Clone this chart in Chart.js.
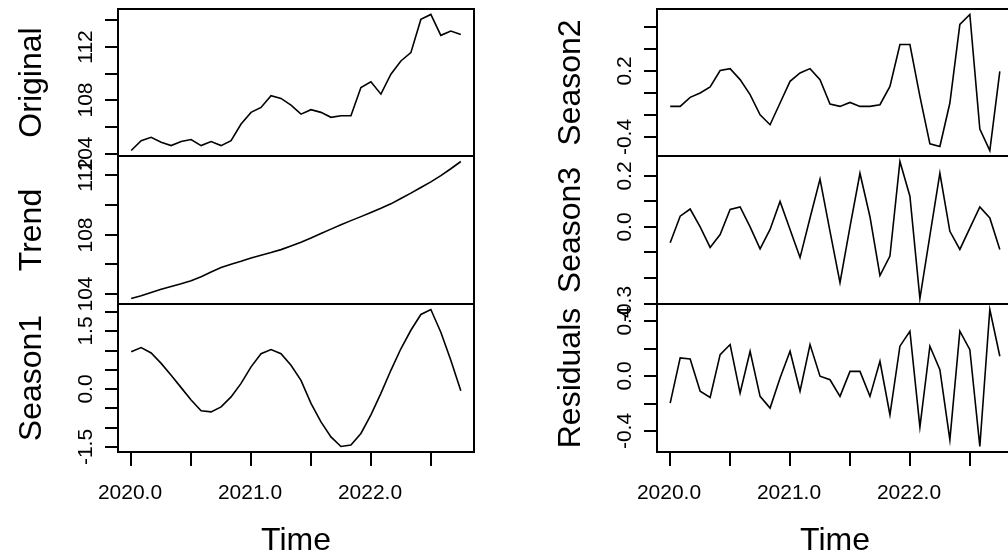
<!DOCTYPE html>
<html><head><meta charset="utf-8">
<script src="https://cdn.jsdelivr.net/npm/chart.js@4/dist/chart.umd.min.js"></script>
<style>
html,body{margin:0;padding:0;background:#fff;overflow:hidden;width:1008px;height:556px;}
#wrap{position:relative;width:1008px;height:556px;overflow:hidden;background:#fff;}
canvas{position:absolute;left:0;top:0;}
</style></head><body><div id="wrap"></div>
<script>
// ---- time index (monthly ts, Jan 2020 .. Oct 2022) ----
const tsStart = 2020, tsFreq = 12;

// ---- series values ----
const original = [104.25, 104.99, 105.24, 104.87, 104.62, 104.92, 105.07, 104.62, 104.92, 104.62,
  104.99, 106.23, 107.10, 107.47, 108.34, 108.14, 107.64, 106.97, 107.30, 107.10,
  106.73, 106.85, 106.85, 108.96, 109.38, 108.46, 109.95, 110.94, 111.56, 114.04,
  114.41, 112.85, 113.17, 112.92];
const trend = [103.71, 103.90, 104.12, 104.33, 104.52, 104.70, 104.90, 105.18, 105.50, 105.80,
  106.02, 106.22, 106.44, 106.62, 106.80, 107.00, 107.25, 107.50, 107.78, 108.08,
  108.38, 108.67, 108.95, 109.22, 109.50, 109.78, 110.08, 110.44, 110.80, 111.18,
  111.56, 111.98, 112.44, 112.93];
const season1 = [0.97, 1.08, 0.94, 0.67, 0.36, 0.04, -0.28, -0.56, -0.59, -0.46,
  -0.20, 0.15, 0.58, 0.92, 1.03, 0.92, 0.62, 0.23, -0.37, -0.85,
  -1.24, -1.49, -1.45, -1.15, -0.67, -0.11, 0.49, 1.05, 1.53, 1.94,
  2.07, 1.48, 0.75, -0.04];
const season2 = [-0.124, -0.124, -0.042, -0.002, 0.053, 0.202, 0.220, 0.120, -0.017, -0.200,
  -0.291, -0.093, 0.104, 0.180, 0.220, 0.120, -0.102, -0.124, -0.088, -0.124,
  -0.124, -0.109, 0.058, 0.439, 0.439, -0.033, -0.465, -0.489, -0.093, 0.622,
  0.713, -0.330, -0.526, 0.195];
const season3 = [-0.062, 0.042, 0.070, 0.000, -0.080, -0.030, 0.068, 0.078, 0.000, -0.086,
  -0.010, 0.100, -0.010, -0.120, 0.035, 0.187, -0.017, -0.218, 0.000, 0.210,
  0.040, -0.190, -0.114, 0.256, 0.120, -0.280, -0.034, 0.210, -0.017, -0.088,
  -0.005, 0.078, 0.035, -0.088];
const residuals = [-0.196, 0.133, 0.125, -0.110, -0.155, 0.157, 0.230, -0.123, 0.181, -0.147,
  -0.232, -0.013, 0.181, -0.110, 0.230, 0.000, -0.026, -0.147, 0.035, 0.035,
  -0.147, 0.108, -0.281, 0.218, 0.327, -0.371, 0.218, 0.047, -0.464, 0.327,
  0.193, -0.512, 0.485, 0.145];

// ---- tick values and labels ----
const xTicks = [2020, 2020.5, 2021, 2021.5, 2022, 2022.5];
const xTickLabels = ['2020.0', '', '2021.0', '', '2022.0', ''];
const originalTicks = [104, 106, 108, 110, 112, 114];
const originalTickLabels = ['104', '', '108', '', '112', ''];
const trendTicks = [104, 106, 108, 110, 112];
const trendTickLabels = ['104', '', '108', '', '112'];
const season1Ticks = [-1.5, -1.0, -0.5, 0.0, 0.5, 1.0, 1.5, 2.0];
const season1TickLabels = ['-1.5', '', '', '0.0', '', '', '1.5', ''];
const season2Ticks = [-0.4, -0.2, 0.0, 0.2, 0.4, 0.6];
const season2TickLabels = ['-0.4', '', '', '0.2', '', ''];
const season3Ticks = [-0.3, -0.2, -0.1, 0.0, 0.1, 0.2];
const season3TickLabels = ['-0.3', '', '', '0.0', '', '0.2'];
const residualTicks = [-0.4, -0.2, 0.0, 0.2, 0.4];
const residualTickLabels = ['-0.4', '', '0.0', '', '0.4'];
const panelTitles = ['Original', 'Trend', 'Season1', 'Season2', 'Season3', 'Residuals'];
const xTitle = 'Time';

// ---- layout ----
const CW = 1020, CH = 556;
const colLeft = [118, 657];
const boxW = 356;
const rowEdges = [9, 156, 304, 452];
const FONT = '"Liberation Sans", Arial, Helvetica, sans-serif';

const time = original.map((_, i) => tsStart + i / tsFreq);
const xPad = (time[time.length - 1] - time[0]) * 0.04;
const xMin = time[0] - xPad, xMax = time[time.length - 1] + xPad;

const panels = [
  {title: panelTitles[0], data: original, ticks: originalTicks, labels: originalTickLabels, col: 0, row: 0},
  {title: panelTitles[1], data: trend, ticks: trendTicks, labels: trendTickLabels, col: 0, row: 1},
  {title: panelTitles[2], data: season1, ticks: season1Ticks, labels: season1TickLabels, col: 0, row: 2},
  {title: panelTitles[3], data: season2, ticks: season2Ticks, labels: season2TickLabels, col: 1, row: 0},
  {title: panelTitles[4], data: season3, ticks: season3Ticks, labels: season3TickLabels, col: 1, row: 1},
  {title: panelTitles[5], data: residuals, ticks: residualTicks, labels: residualTickLabels, col: 1, row: 2}
];

function rPlugin(p) {
  return {
    id: 'rAxes' + p.title,
    afterDraw(chart) {
      const ctx = chart.ctx, a = chart.chartArea;
      const xs = chart.scales.x, ys = chart.scales.y;
      ctx.save();
      ctx.strokeStyle = '#000';
      ctx.fillStyle = '#000';
      ctx.lineWidth = 2;
      ctx.strokeRect(a.left, a.top, a.right - a.left, a.bottom - a.top);
      // y axis ticks + labels
      ctx.font = '21px ' + FONT;
      p.ticks.forEach((v, k) => {
        if (v < ys.min - 1e-9 || v > ys.max + 1e-9) return;
        const y = Math.round(ys.getPixelForValue(v));
        ctx.beginPath(); ctx.moveTo(a.left - 13, y); ctx.lineTo(a.left, y); ctx.stroke();
        const lab = p.labels[k];
        if (lab) {
          ctx.save();
          ctx.translate(a.left - 26, y);
          ctx.rotate(-Math.PI / 2);
          ctx.textAlign = 'center';
          ctx.textBaseline = 'alphabetic';
          ctx.fillText(lab, 0, 0);
          ctx.restore();
        }
      });
      // y title
      ctx.save();
      ctx.font = '32px ' + FONT;
      ctx.translate(a.left - 77, (a.top + a.bottom) / 2);
      ctx.rotate(-Math.PI / 2);
      ctx.textAlign = 'center';
      ctx.textBaseline = 'alphabetic';
      ctx.fillText(p.title, 0, 0);
      ctx.restore();
      // bottom x axis
      if (p.row === 2) {
        ctx.font = '21px ' + FONT;
        xTicks.forEach((v, k) => {
          const x = Math.round(xs.getPixelForValue(v));
          ctx.beginPath(); ctx.moveTo(x, a.bottom); ctx.lineTo(x, a.bottom + 14); ctx.stroke();
          if (xTickLabels[k]) {
            ctx.textAlign = 'center';
            ctx.textBaseline = 'alphabetic';
            ctx.fillText(xTickLabels[k], x - 1, a.bottom + 47);
          }
        });
        ctx.font = '32px ' + FONT;
        ctx.textAlign = 'center';
        ctx.fillText(xTitle, (a.left + a.right) / 2, a.bottom + 98);
      }
      ctx.restore();
    }
  };
}

const wrap = document.getElementById('wrap');
panels.forEach(p => {
  const cv = document.createElement('canvas');
  cv.width = CW; cv.height = CH;
  cv.style.width = CW + 'px'; cv.style.height = CH + 'px';
  wrap.appendChild(cv);
  const lo = Math.min(...p.data), hi = Math.max(...p.data);
  const yPad = (hi - lo) * 0.04;
  const L = colLeft[p.col], R = colLeft[p.col] + boxW;
  const T = rowEdges[p.row], B = rowEdges[p.row + 1];
  new Chart(cv, {
    type: 'line',
    data: {
      datasets: [{
        data: time.map((t, i) => ({x: t, y: p.data[i]})),
        borderColor: '#000',
        borderWidth: 1.6,
        pointRadius: 0,
        tension: 0,
        fill: false
      }]
    },
    options: {
      responsive: false,
      animation: false,
      devicePixelRatio: 1,
      events: [],
      layout: {padding: {left: L, top: T, right: CW - R, bottom: CH - B}},
      scales: {
        x: {type: 'linear', display: false, min: xMin, max: xMax},
        y: {type: 'linear', display: false, min: lo - yPad, max: hi + yPad}
      },
      plugins: {legend: {display: false}, tooltip: {enabled: false}}
    },
    plugins: [rPlugin(p)]
  });
});
</script>
</body></html>
